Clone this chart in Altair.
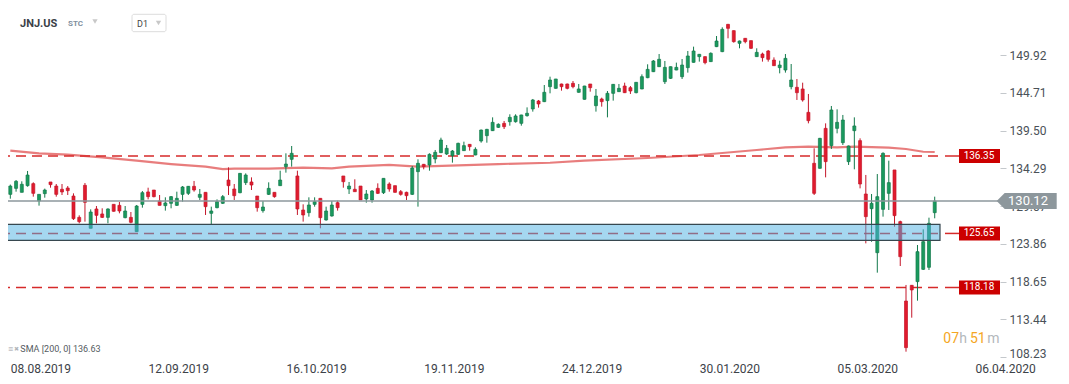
import altair as alt
import pandas as pd

# ---------------- data ----------------
symbol = "JNJ.US"
opens = [
    131.05, 131.88, 131.33, 132.25, 132.53, 130.13, 131.15, 132.76, 132.20, 131.75,
    131.93, 130.82, 127.87, 132.30, 126.36, 129.03, 128.34, 127.87, 129.67, 129.53,
    127.83, 127.87, 125.90, 129.67, 131.38, 131.65, 130.13, 129.49, 129.81, 129.53,
    131.05, 131.19, 132.16, 130.64, 131.33, 128.43, 129.21, 129.81, 133.03, 131.79,
    131.28, 132.67, 132.76, 130.82, 128.80, 131.05, 131.33, 132.25, 134.88, 135.89,
    133.59, 128.89, 128.52, 129.67, 130.50, 127.51, 128.06, 129.90, 133.59, 131.79,
    131.75, 132.20, 130.41, 130.27, 131.88, 131.28, 132.48, 132.25, 131.42, 131.33,
    131.05, 134.19, 135.20, 135.11, 135.94, 136.81, 136.63, 136.40, 136.58, 137.09,
    137.96, 136.49, 138.42, 139.16, 139.85, 140.31, 140.86, 141.09, 141.09, 140.86,
    141.92, 142.85, 143.95, 143.86, 145.93, 145.70, 146.30, 146.30, 146.39, 145.15,
    144.18, 146.30, 143.30, 144.23, 144.00, 145.01, 145.24, 146.02, 145.79, 145.10,
    145.61, 147.17, 148.00, 148.69, 146.62, 147.08, 148.23, 147.31, 148.56, 149.29,
    150.08, 150.08, 149.39, 151.46, 150.77, 154.54, 153.67, 151.92, 152.61, 152.29,
    150.08, 150.44, 150.86, 149.61, 148.56, 148.23, 145.93, 145.84, 145.61, 142.38,
    135.34, 134.65, 140.17, 137.78, 140.17, 138.19, 135.57, 139.85, 138.47, 131.10,
    129.07, 122.99, 128.98, 131.19, 134.42, 127.28, 116.31, 118.48, 118.99, 120.69,
    120.97, 128.52,
]
highs = [
    132.40, 133.03, 132.85, 134.28, 132.71, 131.05, 131.84, 132.76, 132.48, 132.48,
    132.20, 131.19, 128.15, 132.62, 128.98, 129.44, 129.12, 129.12, 129.67, 130.00,
    129.44, 128.61, 129.58, 131.51, 131.97, 131.65, 130.96, 130.64, 130.82, 131.42,
    132.20, 132.20, 132.90, 131.79, 131.33, 129.35, 130.36, 130.96, 134.78, 132.48,
    134.00, 133.95, 133.40, 130.82, 130.13, 132.71, 131.33, 134.32, 136.72, 137.73,
    134.32, 129.67, 130.64, 130.64, 130.50, 129.35, 130.13, 130.18, 133.59, 132.76,
    133.13, 132.20, 131.65, 131.65, 132.57, 133.26, 132.71, 132.25, 131.65, 131.42,
    134.97, 135.89, 135.25, 136.72, 137.18, 138.88, 137.87, 137.18, 138.19, 138.33,
    138.00, 137.55, 140.00, 140.10, 141.69, 140.86, 141.19, 142.11, 142.11, 142.05,
    143.07, 144.23, 144.09, 146.16, 147.31, 147.00, 146.35, 146.35, 146.71, 146.30,
    146.05, 146.30, 145.61, 144.41, 145.33, 146.30, 146.30, 146.48, 146.02, 146.55,
    147.63, 149.02, 149.61, 150.44, 149.48, 148.72, 149.25, 149.75, 150.86, 151.46,
    150.45, 150.10, 150.67, 152.93, 154.13, 154.60, 153.70, 152.30, 152.65, 152.30,
    151.23, 150.63, 151.00, 149.98, 149.52, 150.44, 149.06, 146.99, 146.48, 144.92,
    137.41, 138.85, 140.86, 143.26, 142.80, 142.02, 137.80, 141.69, 138.79, 133.73,
    131.10, 133.86, 136.86, 135.70, 134.42, 127.41, 118.53, 118.50, 124.05, 126.22,
    127.83, 130.73,
]
lows = [
    130.45, 131.42, 131.33, 132.11, 130.73, 129.49, 130.59, 131.97, 130.73, 130.96,
    130.96, 127.51, 127.05, 127.28, 126.36, 127.05, 127.78, 127.05, 128.66, 128.43,
    127.74, 127.05, 125.90, 129.21, 130.36, 130.64, 129.53, 128.80, 129.12, 129.44,
    130.04, 130.96, 131.42, 130.27, 128.20, 126.91, 129.12, 129.72, 130.96, 130.27,
    131.20, 132.34, 131.65, 128.66, 128.52, 130.96, 130.59, 132.25, 134.05, 134.88,
    128.20, 127.28, 127.97, 129.35, 126.36, 127.42, 127.97, 128.80, 131.97, 131.10,
    131.42, 130.27, 129.90, 129.90, 131.10, 131.10, 131.42, 131.28, 130.87, 130.27,
    130.96, 129.35, 134.51, 134.32, 135.34, 136.75, 136.49, 135.43, 136.49, 137.05,
    137.09, 136.45, 138.19, 138.19, 139.80, 140.22, 140.08, 140.54, 140.96, 140.54,
    141.79, 142.48, 143.03, 143.80, 145.01, 145.65, 145.38, 145.56, 145.70, 145.10,
    144.15, 145.24, 142.48, 143.17, 141.69, 144.00, 145.20, 145.05, 144.92, 145.01,
    145.58, 147.10, 147.95, 148.65, 146.30, 146.99, 148.20, 146.99, 147.87, 149.25,
    149.39, 149.02, 149.35, 151.40, 150.70, 152.61, 152.01, 151.23, 151.92, 151.13,
    150.05, 149.39, 149.39, 148.80, 147.77, 147.87, 145.56, 144.09, 143.86, 140.86,
    130.96, 134.60, 133.40, 137.32, 139.48, 137.87, 135.11, 134.51, 131.88, 124.28,
    124.50, 120.23, 127.97, 128.89, 126.58, 121.15, 109.31, 114.01, 116.36, 120.60,
    120.60, 127.74,
]
closes = [
    132.20, 132.85, 132.44, 133.72, 131.19, 131.05, 131.65, 132.39, 131.05, 131.38,
    131.56, 127.69, 127.28, 129.95, 128.61, 128.15, 127.87, 129.03, 128.71, 128.75,
    128.75, 127.19, 129.44, 131.28, 130.73, 130.73, 129.53, 129.86, 130.73, 130.50,
    132.07, 132.16, 131.65, 131.05, 129.35, 128.75, 130.04, 130.73, 132.25, 130.87,
    133.95, 133.72, 132.34, 129.21, 129.30, 131.88, 130.73, 133.03, 135.24, 136.72,
    129.03, 128.20, 129.58, 130.04, 127.83, 128.75, 129.58, 129.21, 132.80, 132.20,
    131.42, 130.27, 131.10, 131.51, 131.19, 133.26, 131.79, 131.33, 131.05, 130.87,
    134.69, 135.34, 134.88, 136.58, 136.86, 138.56, 137.41, 137.04, 138.10, 137.78,
    137.64, 137.27, 139.94, 140.03, 141.00, 140.73, 140.40, 141.69, 141.88, 142.02,
    142.25, 144.09, 143.54, 145.15, 146.85, 146.99, 145.93, 145.70, 145.93, 145.61,
    146.02, 145.79, 144.64, 143.86, 145.01, 146.25, 145.70, 145.10, 145.33, 146.53,
    147.31, 148.32, 149.48, 149.71, 148.60, 148.69, 148.60, 148.92, 150.17, 150.86,
    150.40, 149.25, 150.54, 152.24, 153.85, 153.99, 152.15, 152.24, 152.15, 151.23,
    150.67, 149.94, 149.71, 148.83, 148.92, 149.84, 146.85, 145.10, 144.09, 141.23,
    131.19, 138.79, 135.57, 142.71, 141.00, 141.32, 137.73, 140.50, 132.48, 127.97,
    129.81, 130.73, 136.72, 132.67, 128.11, 122.44, 109.87, 117.84, 123.13, 124.51,
    127.05, 130.12,
]

date_tick_index = [0, 24, 48, 72, 96, 120, 144, 168]
date_tick_label = ["08.08.2019", "12.09.2019", "16.10.2019", "19.11.2019",
                   "24.12.2019", "30.01.2020", "05.03.2020", "06.04.2020"]
price_ticks = [108.23, 113.44, 118.65, 123.86, 129.07, 134.29, 139.50, 144.71, 149.92]

sma_index = [0, 5, 10, 16, 22, 28, 34, 37, 39, 45, 51, 56, 59, 66, 71, 78, 85, 94,
             100, 111, 120, 130, 135, 139, 144, 147, 153, 156, 159, 161]
sma_value = [137.08, 136.72, 136.53, 136.17, 135.70, 135.24, 134.87, 134.55, 134.60,
             134.60, 134.73, 134.65, 134.87, 135.11, 134.87, 135.06, 135.24, 135.42,
             135.70, 136.07, 136.49, 137.18, 137.55, 137.64, 137.55, 137.64, 137.50,
             137.32, 136.94, 136.90]
sma_legend = "SMA [200,  0] 136.63"

level_values = [136.35, 125.65, 118.18]
last_price = 130.12
zone_low = 124.70
zone_high = 126.91
timer_parts = ["07", "h", "51", "m"]

# ---------------- layout ----------------
W, H = 992, 354
x_scale = alt.Scale(domain=[0.4655, 171.5], nice=False, zero=False)
y_scale = alt.Scale(domain=[107.885, 156.8], nice=False, zero=False)

label_expr = " : ".join(
    f"datum.value == {i} ? '{t}'" for i, t in zip(date_tick_index, date_tick_label)
) + " : ''"

x_axis = alt.Axis(values=date_tick_index, labelExpr=label_expr, labelAlign="left",
                  labelFlush=False, labelOverlap=False, ticks=False, domain=False,
                  grid=False, labelFont="Roboto", labelFontSize=12,
                  labelColor="#3c4248", labelPadding=1, title=None)
y_axis = alt.Axis(orient="right", values=price_ticks, format=".2f", tickSize=6,
                  tickColor="#c4c8cc", labelPadding=3, domain=False, grid=False,
                  labelFlush=False, labelOverlap=False, labelFont="Roboto",
                  labelFontSize=12, labelColor="#4a5157", tickOffset=-2.5,
                  labelOffset={"condition": {"test": "datum.value < 110", "value": -3.5},
                               "value": 0},
                  title=None)

X = lambda f: alt.X(f, scale=x_scale, axis=x_axis)
Y = lambda f: alt.Y(f, scale=y_scale, axis=y_axis)

df = pd.DataFrame({"i": list(range(len(opens))), "open": opens, "high": highs,
                   "low": lows, "close": closes})
df["dir"] = ["up" if c >= o else "down" for o, c in zip(opens, closes)]

dir_dom = ["up", "down"]
wick_col = alt.Scale(domain=dir_dom, range=["#12794b", "#c4172a"])
fill_col = alt.Scale(domain=dir_dom, range=["#1a9a5e", "#e01b2e"])

sma_df = pd.DataFrame({"i": sma_index, "v": sma_value})
lv_df = pd.DataFrame({"level": level_values})
lp_df = pd.DataFrame({"level": [last_price]})
zone_df = pd.DataFrame({"lo": [zone_low], "hi": [zone_high]})
one = alt.Data(values=[{"a": 1}])

RED = "#d62a2a"

sma = alt.Chart(sma_df).mark_line(color="#e05252", strokeWidth=2.2, opacity=0.75).encode(
    x=X("i:Q"), y=Y("v:Q"))

dashed = alt.Chart(lv_df).mark_rule(color=RED, strokeWidth=1.5, strokeDash=[10, 6]).encode(
    y=Y("level:Q"), x=alt.value(-8), x2=alt.value(930))

wicks = alt.Chart(df).mark_rule(strokeWidth=1).encode(
    x=X("i:Q"), y=Y("low:Q"), y2="high:Q",
    color=alt.Color("dir:N", scale=wick_col, legend=None))

bodies = alt.Chart(df).mark_bar(size=3, strokeWidth=0.7).encode(
    x=X("i:Q"), y=Y("open:Q"), y2="close:Q",
    fill=alt.Fill("dir:N", scale=fill_col, legend=None),
    stroke=alt.Stroke("dir:N", scale=wick_col, legend=None))

zone = alt.Chart(zone_df).mark_rect(fill="#4bafe1", fillOpacity=0.5, stroke="#37474f",
                                    strokeWidth=1.2).encode(
    y=Y("lo:Q"), y2="hi:Q", x=alt.value(-8), x2=alt.value(932))

price_line = alt.Chart(lp_df).mark_rule(color="#8d979c", strokeWidth=1.5).encode(
    y=Y("level:Q"), x=alt.value(-8), x2=alt.value(992))

connectors = alt.Chart(lv_df).mark_rule(color=RED, strokeWidth=1.5).encode(
    y=Y("level:Q"), x=alt.value(937), x2=alt.value(951))

box_path = "M -1 -0.341 L 1 -0.341 L 1 0.341 L -1 0.341 Z"
boxes = alt.Chart(lv_df).mark_point(shape=box_path, size=1681, filled=True,
                                    color="#cc0000", opacity=1, strokeWidth=0).encode(
    y=Y("level:Q"), x=alt.value(971.5))
box_text = alt.Chart(lv_df).mark_text(color="white", fontSize=10, font="Roboto").encode(
    y=Y("level:Q"), x=alt.value(971), text=alt.Text("level:Q", format=".2f"))

tag_path = "M -1 0 L -0.733 -0.267 L 1 -0.267 L 1 0.267 L -0.733 0.267 Z"
tag = alt.Chart(lp_df).mark_point(shape=tag_path, size=3600, filled=True,
                                  color="#8d979c", opacity=1, strokeWidth=0).encode(
    y=Y("level:Q"), x=alt.value(1018.7))
tag_text = alt.Chart(lp_df).mark_text(color="white", fontSize=13, font="Roboto").encode(
    y=Y("level:Q"), x=alt.value(1020), text=alt.Text("level:Q", format=".2f"))

def label(txt, x, y, size, color, weight="normal", align="left"):
    return alt.Chart(one).mark_text(text=txt, fontSize=size, color=color, font="Roboto",
                                    fontWeight=weight, align=align, baseline="middle").encode(
        x=alt.value(x), y=alt.value(y))

def caret(x, y):
    return alt.Chart(one).mark_point(shape="triangle-down", size=28, filled=True,
                                     color="#c8c8c8", opacity=1).encode(
        x=alt.value(x), y=alt.value(y))

d1_box = alt.Chart(one).mark_rect(fill="white", stroke="#dcdcdc", strokeWidth=1,
                                  cornerRadius=2).encode(
    x=alt.value(124), x2=alt.value(158), y=alt.value(6.3), y2=alt.value(23.7))

header = [
    label(symbol, 12, 15.5, 11, "#3a4147", "bold"),
    label("STC", 60, 16.3, 8, "#7f8fa0", "bold"),
    caret(87, 13.5),
    d1_box,
    label("D1", 129, 16, 9, "#444444"),
    caret(150.5, 15),
    label("\u2261", 0, 341, 9, "#9aa0a6"),
    label("\u2716", 8.6, 341, 6, "#b0b4b8", align="center"),
    label(sma_legend, 12.3, 341, 9, "#555b61"),
    label(timer_parts[0], 935.3, 331, 14, "#f5a623"),
    label(timer_parts[1], 951.3, 331, 14, "#b3b8bc"),
    label(timer_parts[2], 962, 331, 14, "#f5a623"),
    label(timer_parts[3], 979.3, 331, 14, "#b3b8bc"),
]

chart = alt.layer(
    sma, dashed, wicks, bodies, zone, price_line, connectors, boxes, box_text,
    tag, tag_text, *header
).properties(
    width=W, height=H,
    padding={"left": 0, "top": 0, "right": 61, "bottom": 14},
    autosize=alt.AutoSizeParams(type="none"),
    background="white",
).configure_view(stroke=None)

chart.save("out.html", embed_options={"renderer": "svg", "actions": False})
